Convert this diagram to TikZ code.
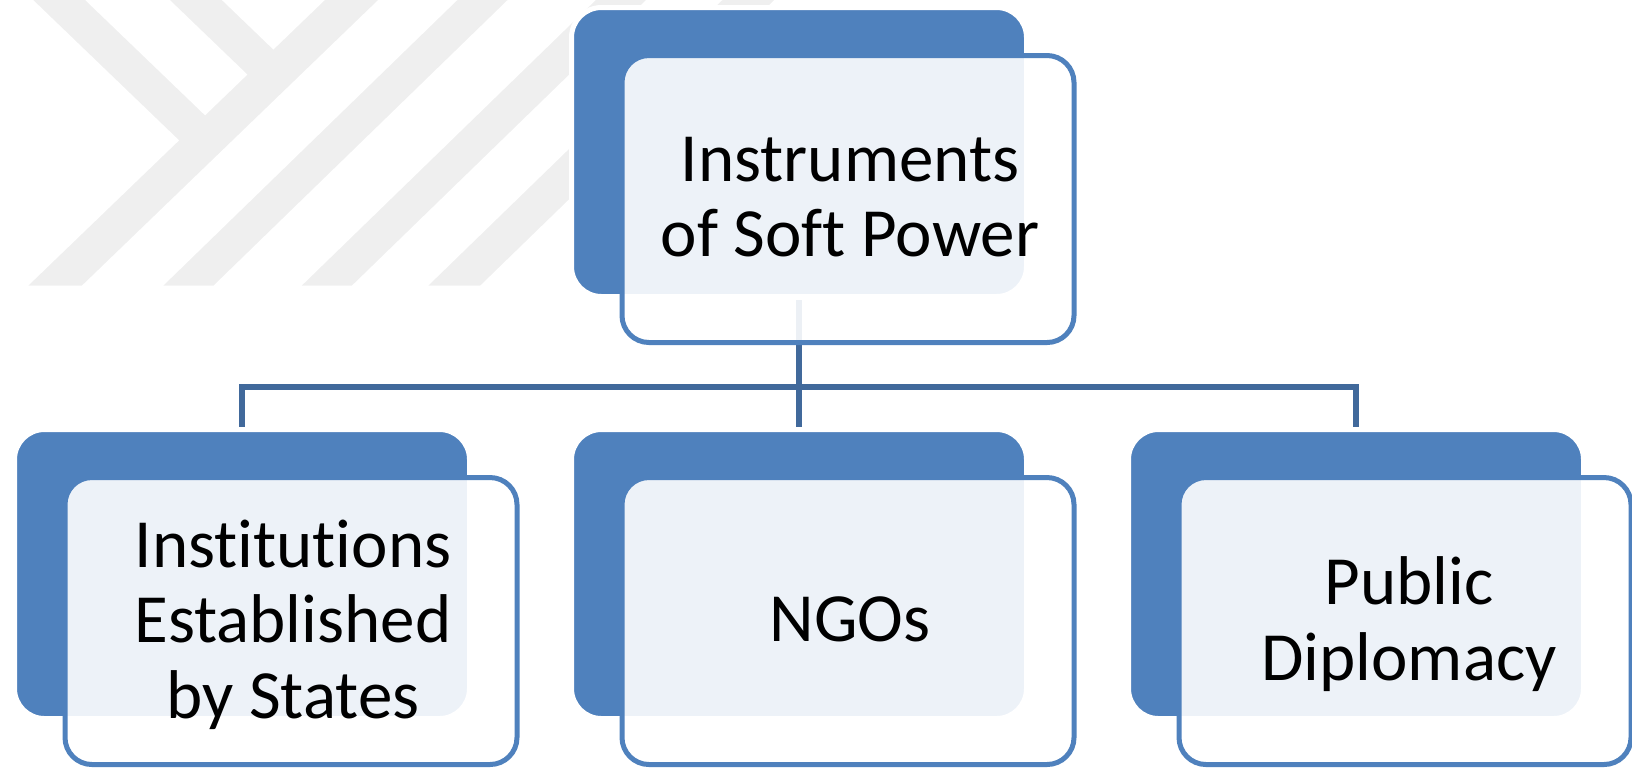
\documentclass[tikz,border=0pt]{standalone}
\usepackage{fontspec}
\setmainfont[Ligatures=NoCommon]{Carlito}
\usetikzlibrary{calc}
\definecolor{accent}{RGB}{79,129,189}
\definecolor{linkblue}{RGB}{65,105,155}
\definecolor{markgray}{RGB}{239,239,239}

\begin{document}
\begin{tikzpicture}[x=0.5pt,y=-0.5pt,
  backbox/.style={draw=white, line width=2.5pt, fill=accent, rounded corners=15pt,
    minimum width=227.5pt, minimum height=144.5pt, inner sep=0pt, outer sep=0pt},
  frontbox/.style={draw=accent, line width=2.5pt, fill=white, fill opacity=0.9,
    rounded corners=13.5pt, minimum width=226pt, minimum height=143.5pt,
    inner sep=0pt, outer sep=0pt},
  caption/.style={font=\fontsize{34.5}{37.75}\selectfont, align=center,
    anchor=base, inner sep=0pt, text=black},
  conn/.style={draw=linkblue, line width=2.75pt},
  stripe/.style={fill=markgray, draw=none}
]
\useasboundingbox (0,0) rectangle (1632,768);

% faint background emblem: two short bars joining a long slash, plus three slashes
\fill[stripe] (28.3,285.7) -- (81.7,285.7) -- (378,0) -- (325,0) -- cycle;
\fill[stripe] (33.3,0) -- (85,0) -- (231.2,140.6) -- (205.5,165.6) -- cycle;
\fill[stripe] (170,0) -- (221.7,0) -- (299.2,74.5) -- (273.5,99.5) -- cycle;
\fill[stripe] (163.3,285.7) -- (213.3,285.7) -- (507.5,0) -- (457.5,0) -- cycle;
\fill[stripe] (301.7,285.7) -- (351.7,285.7) -- (645.9,0) -- (595.9,0) -- cycle;
\fill[stripe] (428.3,285.7) -- (480,285.7) -- (774.2,0) -- (722.5,0) -- cycle;

% back plates
\node[backbox] (p0) at (799,152) {};
\node[backbox] (p1) at (242,574) {};
\node[backbox] (p2) at (799,574) {};
\node[backbox] (p3) at (1356,574) {};

% connectors
\coordinate (j) at ($(p0.south)+(0,90.5)$);
\draw[conn] ($(p0.south)+(0,3.5)$) -- (j);
\draw[conn] ($(p1.north)+(0,-3)$) |- (j) -| ($(p3.north)+(0,-3)$);
\draw[conn] (j) -- ($(p2.north)+(0,-3)$);

% front cards
\node[frontbox] (f0) at ($(p0)+(49,47)$) {};
\node[frontbox] (f1) at ($(p1)+(49,47)$) {};
\node[frontbox] (f2) at ($(p2)+(49,47)$) {};
\node[frontbox] (f3) at ($(p3)+(49,47)$) {};

% labels (base anchor sits on the last line)
\node[caption] (t0) at ($(f0)+(2,57.5)$) {Instruments\\of Soft Power};
\node[caption] (t1) at ($(f1)+(2,97)$) {Institutions\\Established\\by States};
\node[caption] (t2) at ($(f2)+(2,20.5)$) {NGOs};
\node[caption] (t3) at ($(f3)+(4,59)$) {Public\\Diplomacy};
\end{tikzpicture}
\end{document}
